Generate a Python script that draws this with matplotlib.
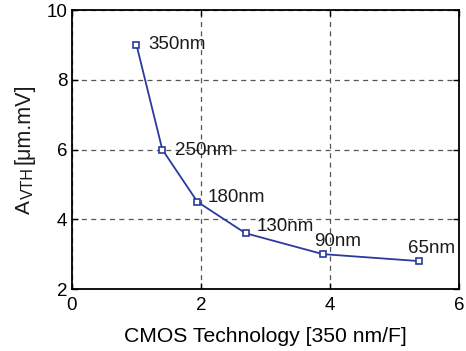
import matplotlib
matplotlib.use("Agg")
import matplotlib.pyplot as plt

plt.rcParams['font.family'] = ['Liberation Sans', 'DejaVu Sans']

# data: 350/F for each node, and A_VTH
nodes = ['350nm', '250nm', '180nm', '130nm', '90nm', '65nm']
x_vals = [1.0, 1.4, 1.944, 2.69, 3.89, 5.385]
avth = [9.0, 6.0, 4.5, 3.6, 3.0, 2.8]
label_x = [1.19, 1.6, 2.11, 2.87, 3.75, 5.21]
label_y = [9.0, 5.98, 4.61, 3.78, 3.35, 3.15]

fig = plt.figure(figsize=(4.66, 3.51), dpi=100)
ax = fig.add_axes([0.1545, 0.1766, 0.985 - 0.1545, 0.9715 - 0.1766])

ax.plot(x_vals, avth, color='#2a3a9c', linewidth=1.3, marker='s',
        markersize=4.5, markerfacecolor='white', markeredgecolor='#2a3a9c',
        markeredgewidth=1.2, zorder=3)

for name, lx, ly in zip(nodes, label_x, label_y):
    ax.text(lx, ly, name, fontsize=13.5, ha='left', va='center', color='#1a1a1a')

ax.set_xlim(0, 6)
ax.set_ylim(2, 10)
ax.set_xticks([0, 2, 4, 6])
ax.set_yticks([2, 4, 6, 8, 10])
ax.tick_params(direction='in', labelsize=13.5, length=4, width=1,
               top=True, right=True)
ax.tick_params(axis='x', pad=6)
ax.grid(True, linestyle=(0, (4, 3.5)), color='#555555', linewidth=0.9)
for s in ax.spines.values():
    s.set_linewidth(1.3)

ax.set_xlabel('CMOS Technology [350 nm/F]', fontsize=15.2, labelpad=9)

# y label: A with subscript VTH, then the unit
kw = dict(rotation=90, rotation_mode='anchor', ha='left', va='baseline',
          color='#1a1a1a')
fig.text(29.5 / 466, 1 - 214 / 351, 'A', fontsize=15, **kw)
fig.text(33 / 466, 1 - 199 / 351, 'VTH', fontsize=11.5, **kw)
fig.text(29 / 466, 1 - 164 / 351, '[μm.mV]', fontsize=15.5, **kw)

plt.savefig('out.png', dpi=100)
